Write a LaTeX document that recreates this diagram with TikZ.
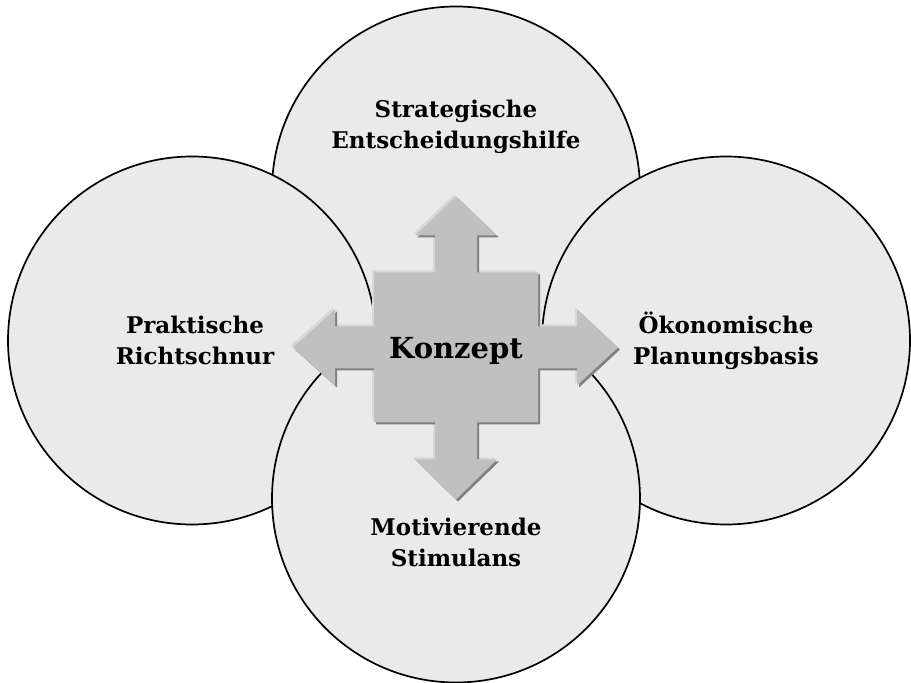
\documentclass[tikz,border=0pt]{standalone}
\usepackage{fontspec}
\setmainfont{DejaVu Serif}
\usepackage{tikz}
\usetikzlibrary{shapes}
\definecolor{circlegray}{HTML}{EAEAEA}
\definecolor{crossgray}{HTML}{C0C0C0}
\definecolor{crossdark}{HTML}{808080}
\definecolor{crosslight}{HTML}{D8D8D8}
\tikzstyle{area} = [circle, draw, fill=circlegray, line width=1.7pt,
	minimum size=368pt, inner sep=0pt]
\tikzstyle{lbl} = [text centered, align=center,
	font=\bfseries\fontsize{23}{31}\selectfont]
\tikzstyle{core} = [font=\bfseries\fontsize{29}{30}\selectfont]
\tikzstyle{plate} = [fill=crossgray]
% outline of the cross with its four arrows, around (0,0)
\newcommand{\crossoutline}{(-82,75) -- (-21,75) -- (-21,112) -- (-41,112) -- (0,151)
	-- (41,112) -- (21,112) -- (21,75) -- (82,75) -- (82,21) -- (121,21) -- (121,38)
	-- (162,0) -- (121,-38) -- (121,-21) -- (82,-21) -- (82,-75) -- (21,-75)
	-- (21,-112) -- (41,-112) -- (0,-152) -- (-41,-112) -- (-21,-112) -- (-21,-75)
	-- (-82,-75) -- (-82,-21) -- (-121,-21) -- (-121,-38) -- (-163,0) -- (-121,38)
	-- (-121,21) -- (-82,21) -- cycle}

\begin{document}
\begin{tikzpicture}[x=1pt, y=1pt, node distance=2cm]
	\useasboundingbox (0,0) rectangle (911,683);

	% Place nodes
	\coordinate (mid) at (456,335.5);
	\node [area, above of=mid, node distance=157pt] (topc) {};
	\node [area, left of=mid, node distance=264pt, yshift=7pt] (leftc) {};
	\node [area, right of=mid, node distance=270pt, yshift=7pt] (rightc) {};
	\node [area, below of=mid, node distance=151pt] (botc) {};

	% Draw the cross
	\fill [crosslight, shift={(mid)}, xshift=-2pt, yshift=2pt] \crossoutline;
	\fill [crossdark, shift={(mid)}, xshift=2pt, yshift=-2pt] \crossoutline;
	\fill [plate, shift={(mid)}] \crossoutline;

	% Texts
	\node [core, yshift=-3pt] (konzept) at (mid) {Konzept};
	\node [lbl, above of=topc, node distance=64pt] (strat) {Strategische\\Entscheidungshilfe};
	\node [lbl, xshift=3pt] (prakt) at (leftc) {Praktische\\Richtschnur};
	\node [lbl] (oekon) at (rightc) {Ökonomische\\Planungsbasis};
	\node [lbl, below of=botc, node distance=44pt] (motiv) {Motivierende\\Stimulans};
\end{tikzpicture}
\end{document}
